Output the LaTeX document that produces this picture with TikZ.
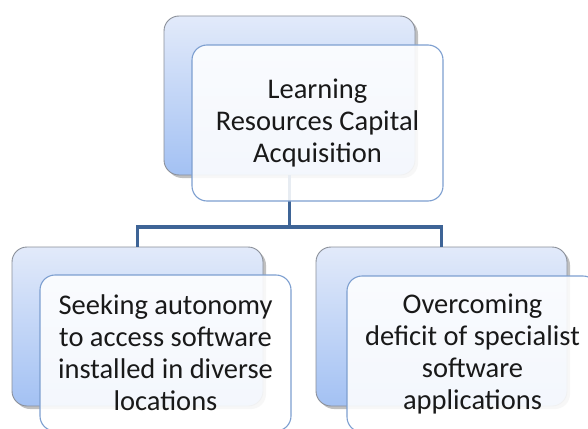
\documentclass[tikz,border=0pt]{standalone}
\usepackage{fontspec}
\setmainfont{Carlito}
\usetikzlibrary{shadows}
\definecolor{backtop}{HTML}{E2EAFA}
\definecolor{backbot}{HTML}{A3C1F3}
\definecolor{backedge}{HTML}{8A8F99}
\definecolor{frontedge}{HTML}{7D9FD0}
\definecolor{connblue}{HTML}{3E6496}
\tikzset{
  backbox/.style={rectangle, rounded corners=15pt, draw=backedge, line width=0.9pt,
    top color=backtop, bottom color=backbot, minimum width=251pt, minimum height=159pt,
    drop shadow={shadow xshift=3pt, shadow yshift=-3pt, opacity=0.35, fill=black!70}},
  frontbox/.style={rectangle, rounded corners=15pt, draw=frontedge, line width=1.1pt,
    fill=white, fill opacity=0.88, text opacity=1, minimum width=251pt, minimum height=156pt,
    align=center, font=\fontsize{28.5}{32}\selectfont, text=black!90, inner sep=2pt},
  conn/.style={draw=connblue, line width=3.6pt}
}
\begin{document}
\begin{tikzpicture}[x=1pt,y=-1pt]
\path[use as bounding box, clip] (0,0) rectangle (588,428);
\fill[white] (0,0) rectangle (588,428);
% back boxes
\node[backbox] (b0) at (289.5,95.5) {};
\node[backbox] (b1) at (137.5,326.5) {};
\node[backbox] (b2) at (441.5,326.5) {};
% connectors
\coordinate (j) at (289.5,227);
\draw[conn] (b0.south) -- (j);
\draw[conn] (b1.north) |- (j) -| (b2.north);
% front boxes
\node[frontbox] (f0) at (317.5,123) {Learning\\Resources Capital\\Acquisition};
\node[frontbox] (f1) at (165.5,353) {Seeking autonomy\\to access\ software\\installed in diverse\\locations};
\node[frontbox] (f2) at (472.5,354) {Overcoming\\deficit of specialist\\software\\applications};
\end{tikzpicture}
\end{document}
